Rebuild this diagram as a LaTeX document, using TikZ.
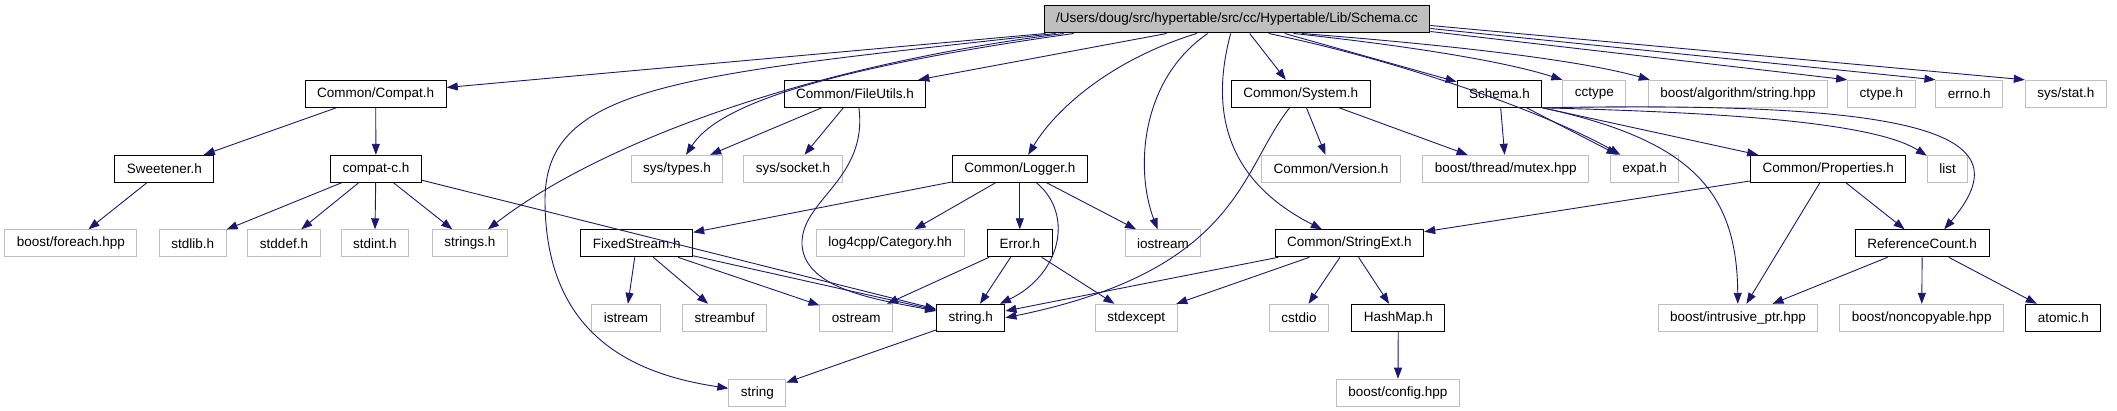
\documentclass[tikz,border=0pt]{standalone}
\usepackage{fontspec}
\setmainfont{Liberation Sans}
\usepackage{tikz}
\usetikzlibrary{arrows.meta}
\definecolor{edgeblue}{HTML}{191970}
\definecolor{boxgray}{HTML}{BFBFBF}

\begin{document}
\begin{tikzpicture}[x=1pt,y=-1pt,
    hdr/.style={draw=black,line width=1pt,minimum height=27pt,inner xsep=12pt,inner ysep=0pt,
      font=\fontsize{13.5}{16}\selectfont},
    sysh/.style={hdr,draw=boxgray},
    rootf/.style={hdr,fill=boxgray},
    dep/.style={edgeblue,line width=0.9pt,-{Triangle[length=11pt,width=8pt]}}]
  \useasboundingbox (0,0) rectangle (2117,411);
  % row 0
  \node[rootf] (cc) at (1237,19.5) {/Users/doug/src/hypertable/src/cc/Hypertable/Lib/Schema.cc};
  % row 1
  \node[hdr] (compat) at (375.7,93.8) {Common/Compat.h};
  \node[hdr] (fileutils) at (854.9,93.8) {Common/FileUtils.h};
  \node[hdr] (systemh) at (1300.8,93.8) {Common/System.h};
  \node[hdr] (schemah) at (1499.5,93.8) {Schema.h};
  \node[sysh] (cctype) at (1594.3,93.8) {cctype};
  \node[sysh] (algo) at (1737.9,93.8) {boost/algorithm/string.hpp};
  \node[sysh] (ctypeh) at (1881.4,93.8) {ctype.h};
  \node[sysh] (errnoh) at (1969.3,93.8) {errno.h};
  \node[sysh] (stath) at (2065.8,93.8) {sys/stat.h};
  % row 2
  \node[hdr] (sweet) at (164.4,168.8) {Sweetener.h};
  \node[hdr] (compatc) at (375.9,168.8) {compat-c.h};
  \node[sysh] (types) at (677,168.8) {sys/types.h};
  \node[sysh] (socket) at (792.9,168.8) {sys/socket.h};
  \node[hdr] (logger) at (1019.8,168.8) {Common/Logger.h};
  \node[sysh] (version) at (1331.1,168.8) {Common/Version.h};
  \node[sysh] (mutex) at (1505.8,168.8) {boost/thread/mutex.hpp};
  \node[sysh] (expat) at (1644.6,168.8) {expat.h};
  \node[hdr] (props) at (1828.3,168.8) {Common/Properties.h};
  \node[sysh] (list) at (1947.6,168.8) {list};
  % row 3
  \node[sysh] (foreach) at (70.9,243.3) {boost/foreach.hpp};
  \node[sysh] (stdlibh) at (192.7,243.3) {stdlib.h};
  \node[sysh] (stddefh) at (284,243.3) {stddef.h};
  \node[sysh] (stdinth) at (374.8,243.3) {stdint.h};
  \node[sysh] (stringsh) at (469.9,243.3) {strings.h};
  \node[hdr] (fixed) at (636.8,243.3) {FixedStream.h};
  \node[sysh] (category) at (890.2,243.3) {log4cpp/Category.hh};
  \node[hdr] (errorh) at (1019.8,243.3) {Error.h};
  \node[sysh] (iostream) at (1162.9,243.3) {iostream};
  \node[hdr] (strext) at (1349.4,243.3) {Common/StringExt.h};
  \node[hdr] (refcount) at (1922.2,243.3) {ReferenceCount.h};
  % row 4
  \node[sysh] (istream) at (625.9,317.8) {istream};
  \node[sysh] (streambuf) at (724.6,317.8) {streambuf};
  \node[sysh] (ostream) at (856.3,317.8) {ostream};
  \node[hdr] (stringh) at (970.8,317.8) {string.h};
  \node[sysh] (stdexcept) at (1136.3,317.8) {stdexcept};
  \node[sysh] (cstdio) at (1299.1,317.8) {cstdio};
  \node[hdr] (hashmap) at (1398.3,317.8) {HashMap.h};
  \node[sysh] (intrusive) at (1737.9,317.8) {boost/intrusive\_ptr.hpp};
  \node[sysh] (noncopy) at (1921.7,317.8) {boost/noncopyable.hpp};
  \node[hdr] (atomic) at (2063.3,317.8) {atomic.h};
  % row 5
  \node[sysh] (string) at (757.3,392.7) {string};
  \node[sysh] (config) at (1397.9,392.7) {boost/config.hpp};

  % Schema.cc
  \draw[dep] ([xshift=2pt]cc.south west) -- (compat);
  \draw[dep] ([xshift=12pt]cc.south west) .. controls (680,75) and (545,85) .. (545,200)
    .. controls (545,340) and (640,375) .. (string);
  \draw[dep] ([xshift=20pt]cc.south west) .. controls (790,68) and (590,150) .. (stringsh);
  \draw[dep] ([xshift=30pt]cc.south west) .. controls (800,72) and (715,110) .. (types);
  \draw[dep] ([xshift=123pt]cc.south west) -- ([xshift=-8pt]fileutils.north east);
  \draw[dep] ([xshift=153pt]cc.south west) .. controls (1110,60) and (1055,110) .. (logger);
  \draw[dep] ([xshift=164pt]cc.south west) .. controls (1140,80) and (1135,170) .. (iostream);
  \draw[dep] ([xshift=187pt]cc.south west) .. controls (1210,110) and (1225,180) .. (strext);
  \draw[dep] ([xshift=206pt]cc.south west) -- ([xshift=-15pt]systemh.north);
  \draw[dep] ([xshift=225pt]cc.south west) .. controls (1420,65) and (1560,120) .. (expat);
  \draw[dep] ([xshift=241pt]cc.south west) -- (schemah);
  \draw[dep] ([xshift=250pt]cc.south west) .. controls (1400,45) and (1500,60) .. (cctype.north west);
  \draw[dep] ([xshift=258pt]cc.south west) .. controls (1450,45) and (1580,60) .. ([xshift=2pt]algo.north west);
  \draw[dep] ([yshift=-12pt]cc.east) -- (ctypeh.north west);
  \draw[dep] ([yshift=-9pt]cc.east) -- (errnoh.north west);
  \draw[dep] ([yshift=-6pt]cc.east) -- (stath.north west);

  % Schema.h
  \draw[dep] (schemah) -- (mutex);
  \draw[dep] (schemah) -- (expat);
  \draw[dep] (schemah.south east) -- ([xshift=8pt]props.north west);
  \draw[dep] (schemah.south east) .. controls (1700,112) and (1870,120) .. (list);
  \draw[dep] (schemah.south east) .. controls (1690,140) and (1737,190) .. (intrusive);
  \draw[dep] (schemah.south east) .. controls (1950,100) and (2020,140) .. ([xshift=22pt]refcount.north);

  \draw[dep] (props) -- (strext);
  \draw[dep] (props) -- (intrusive);
  \draw[dep] (props) -- (refcount);
  \draw[dep] (refcount) -- (intrusive);
  \draw[dep] (refcount) -- (noncopy);
  \draw[dep] (refcount) -- (atomic);

  % Common/System.h
  \draw[dep] (systemh) -- (version);
  \draw[dep] (systemh) -- (mutex);
  \draw[dep] (systemh) .. controls (1240,170) and (1240,270) .. (stringh.east);

  \draw[dep] (strext) -- (stringh);
  \draw[dep] (strext) -- (stdexcept);
  \draw[dep] (strext) -- (cstdio);
  \draw[dep] (strext) -- (hashmap);
  \draw[dep] (hashmap) -- (config);

  % Common/Logger.h
  \draw[dep] (logger) -- (fixed);
  \draw[dep] (logger) -- (category);
  \draw[dep] (logger) -- (errorh);
  \draw[dep] (logger) .. controls (1075,215) and (1060,275) .. (stringh);
  \draw[dep] (logger) -- (iostream);

  \draw[dep] (errorh) -- (ostream);
  \draw[dep] (errorh) -- (stringh);
  \draw[dep] (errorh) -- (stdexcept);

  \draw[dep] (fixed) -- (istream);
  \draw[dep] (fixed) -- (streambuf);
  \draw[dep] (fixed) -- (ostream);
  \draw[dep] (fixed) -- (stringh);

  % Common/FileUtils.h
  \draw[dep] (fileutils) -- (types);
  \draw[dep] (fileutils) -- (socket);
  \draw[dep] ([xshift=4pt]fileutils.south) .. controls (868,180) and (800,200) .. (802,245)
    .. controls (805,290) and (880,300) .. (stringh);

  % Common/Compat.h
  \draw[dep] (compat) -- (sweet);
  \draw[dep] (compat) -- (compatc);
  \draw[dep] (sweet) -- (foreach);
  \draw[dep] (compatc) -- (stdlibh);
  \draw[dep] (compatc) -- (stddefh);
  \draw[dep] (compatc) -- (stdinth);
  \draw[dep] (compatc) -- (stringsh);
  \draw[dep] (compatc) -- (stringh);

  \draw[dep] (stringh) -- (string);
\end{tikzpicture}
\end{document}
